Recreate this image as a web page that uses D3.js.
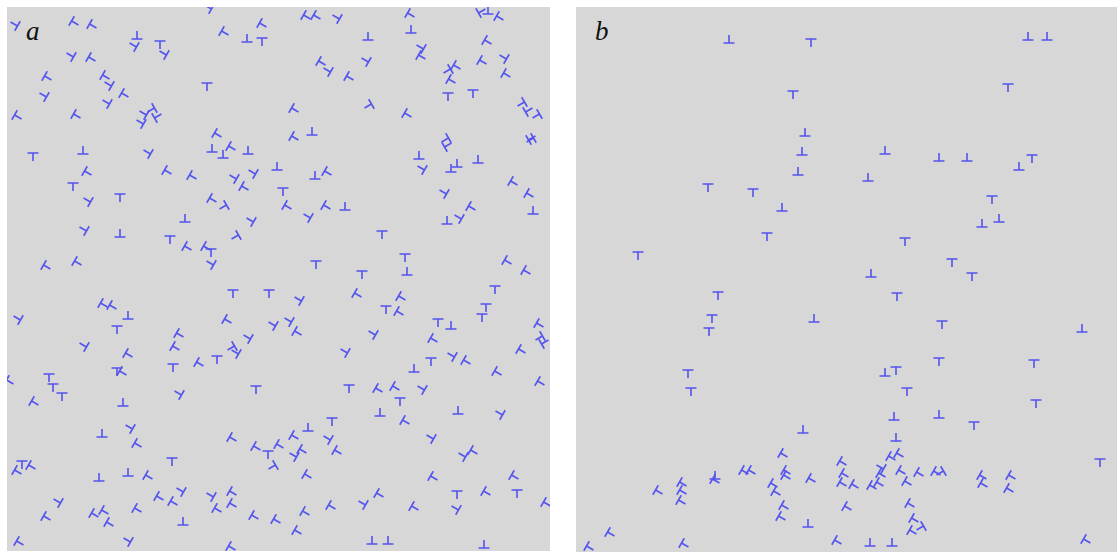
<!DOCTYPE html>
<html>
<head>
<meta charset="utf-8">
<script src="https://cdn.jsdelivr.net/npm/d3@7"></script>
<style>
  html, body { margin: 0; padding: 0; background: #ffffff; }
  svg { display: block; }
</style>
</head>
<body>
<svg id="chart" width="1117" height="552"></svg>
<script>
// Dislocation positions in the field of view (image units) and Burgers-vector
// orientation of each dislocation symbol (degrees, clockwise from "⊥").

// ---- panel a ----
const aX = [7,201,68,86,130,126,153,156,218,240,255,256,63,85,41,36,99,101,118,99,11,70,133,136,144,151,140,26,76,81,66,80,76,113,113,40,71,161,186,200,211,205,216,225,241,226,245,270,238,206,216,243,178,163,181,200,204,203,228,
  300,310,329,404,404,361,413,415,475,481,493,481,496,476,500,315,320,358,343,440,450,445,441,466,288,361,401,305,288,514,522,529,525,523,438,441,412,414,444,450,471,308,321,276,281,300,320,338,436,440,451,465,507,523,526,375,398,400,309,355,501,520,
  10,226,262,97,106,121,110,76,122,173,169,221,265,240,224,228,210,193,166,3,42,46,55,28,110,116,116,171,249,122,95,131,226,250,261,265,15,25,11,165,92,121,142,173,167,153,203,226,226,211,50,40,88,98,103,131,176,248,270,120,13,225,
  291,351,395,379,393,281,291,365,337,488,479,475,431,444,427,444,460,424,407,533,532,538,515,491,534,342,372,389,414,393,373,399,451,492,301,325,288,320,331,273,286,296,423,455,467,301,427,508,510,480,450,448,408,373,355,325,299,291,540,365,381,477];
const aY = [17,0,16,19,28,38,38,46,26,31,35,18,48,52,71,88,70,77,88,95,110,109,115,106,103,109,145,150,143,166,180,193,222,191,226,260,256,165,170,80,128,141,147,141,143,170,165,159,181,193,200,213,211,233,241,241,246,256,230,
  10,10,10,8,22,29,40,50,4,3,11,35,50,55,68,56,63,53,71,64,60,74,90,87,103,99,108,124,131,97,103,109,131,133,133,138,148,161,161,156,152,168,166,185,200,209,200,199,185,213,210,201,176,188,203,228,251,264,258,268,255,265,
  311,287,287,298,300,308,323,338,348,328,341,314,317,330,341,345,353,357,361,375,371,381,390,396,365,366,395,386,383,420,426,438,432,441,448,460,458,460,465,455,470,465,470,483,496,491,488,486,498,503,494,511,508,505,517,503,514,510,514,533,536,541,
  292,288,291,303,306,313,326,326,344,283,301,311,316,318,333,348,355,355,361,318,331,335,344,366,376,382,383,381,381,395,405,415,403,406,420,415,430,431,445,439,448,444,430,448,445,469,471,470,487,486,488,501,501,488,496,500,506,525,497,533,533,537];
const aAngle = [300,300,120,120,0,300,180,300,120,0,180,120,300,120,120,300,120,300,120,300,120,120,300,300,240,60,300,180,0,120,180,300,300,180,0,120,120,120,120,180,120,0,0,120,0,300,300,0,120,120,240,300,0,180,120,120,180,300,240,
  120,120,300,120,0,0,300,120,60,0,120,120,300,120,120,120,300,300,120,240,120,120,180,180,120,240,120,0,120,240,60,240,60,240,240,60,0,300,0,0,0,0,120,180,120,300,120,0,300,0,300,120,120,120,0,180,180,0,180,180,120,120,
  300,180,180,120,120,0,180,300,120,120,120,120,300,300,240,300,180,120,180,120,180,180,180,120,180,120,0,300,180,300,0,120,120,120,180,240,180,120,120,180,0,0,120,300,120,120,300,120,120,120,300,120,120,120,120,120,0,120,120,300,120,120,
  300,120,120,180,120,300,120,300,300,180,180,180,180,0,120,300,120,180,0,120,240,60,120,120,120,180,120,120,300,180,0,120,0,300,0,180,120,300,120,120,300,120,300,300,120,120,120,120,180,120,180,300,120,120,300,120,120,120,120,0,0,0];

// ---- panel b ----
const bX = [153,235,217,229,226,222,132,177,206,191,62,452,471,432,309,363,391,443,456,292,416,406,423,329,376,295,396,142,136,133,112,115,238,227,208,139,140,169,176,211,211,236,198,201,209,206,232,83,107,107,106,35,14,109,262,
  321,366,363,506,458,460,309,320,331,318,363,398,320,524,267,269,267,279,304,306,304,297,316,324,326,332,344,361,364,407,408,436,434,272,335,339,344,337,294,316,511];
const bY = [32,36,88,125,144,164,181,186,200,230,249,29,29,81,143,150,150,159,152,170,193,216,211,235,256,266,270,289,312,325,367,385,311,422,448,468,474,465,465,465,470,473,478,486,500,511,516,485,477,485,495,527,541,538,535,
  290,318,355,321,357,397,365,364,385,409,407,419,430,456,456,468,477,479,460,468,477,480,451,448,465,476,467,466,466,470,478,470,483,501,498,513,521,525,535,535,534];
const bAngle = [0,180,180,0,0,0,180,180,0,180,180,0,0,180,0,0,0,0,180,0,180,0,0,180,180,0,180,180,180,180,180,180,0,0,120,0,120,120,120,120,120,120,120,120,120,120,0,120,120,120,120,120,120,120,120,
  180,180,180,0,180,180,0,180,180,0,0,180,0,180,120,120,120,120,300,120,120,120,120,120,120,120,120,120,240,120,120,120,120,120,120,120,240,120,0,0,120];

const panelLabels = ["a", "b"];

// ---- layout ----
const layout = [
  { left: 7,   top: 7, width: 543, height: 544, xs: aX, ys: aY, angles: aAngle },
  { left: 576, top: 7, width: 541, height: 545, xs: bX, ys: bY, angles: bAngle }
];

const svg = d3.select("#chart");
const defs = svg.append("defs");

// "⊥" dislocation glyph, centred on the origin: slip-plane bar plus extra half-plane stem
const glyph = "M-5.5,4H5.5M0,4V-4";

layout.forEach((p, i) => {
  const x = d3.scaleLinear().domain([0, p.width]).range([p.left, p.left + p.width]);
  const y = d3.scaleLinear().domain([0, p.height]).range([p.top, p.top + p.height]);

  defs.append("clipPath").attr("id", "clip" + i)
    .append("rect")
    .attr("x", p.left).attr("y", p.top)
    .attr("width", p.width).attr("height", p.height);

  const g = svg.append("g");
  g.append("rect")
    .attr("x", p.left).attr("y", p.top)
    .attr("width", p.width).attr("height", p.height)
    .attr("fill", "#d7d7d7");

  const pts = d3.range(p.xs.length).map(k => ({ x: p.xs[k], y: p.ys[k], a: p.angles[k] }));

  g.append("g").attr("clip-path", "url(#clip" + i + ")")
    .selectAll("path")
    .data(pts)
    .join("path")
    .attr("d", glyph)
    .attr("transform", d => `translate(${x(d.x)},${y(d.y)}) rotate(${d.a})`)
    .attr("fill", "none")
    .attr("stroke", "#5454ee")
    .attr("stroke-width", 1.6)
    .attr("stroke-linecap", "butt");

  g.append("text")
    .attr("x", p.left + 19)
    .attr("y", p.top + 33)
    .attr("font-family", "'Liberation Serif', 'DejaVu Serif', serif")
    .attr("font-style", "italic")
    .attr("font-size", 27)
    .attr("fill", "#111")
    .text(panelLabels[i]);
});
</script>
</body>
</html>
